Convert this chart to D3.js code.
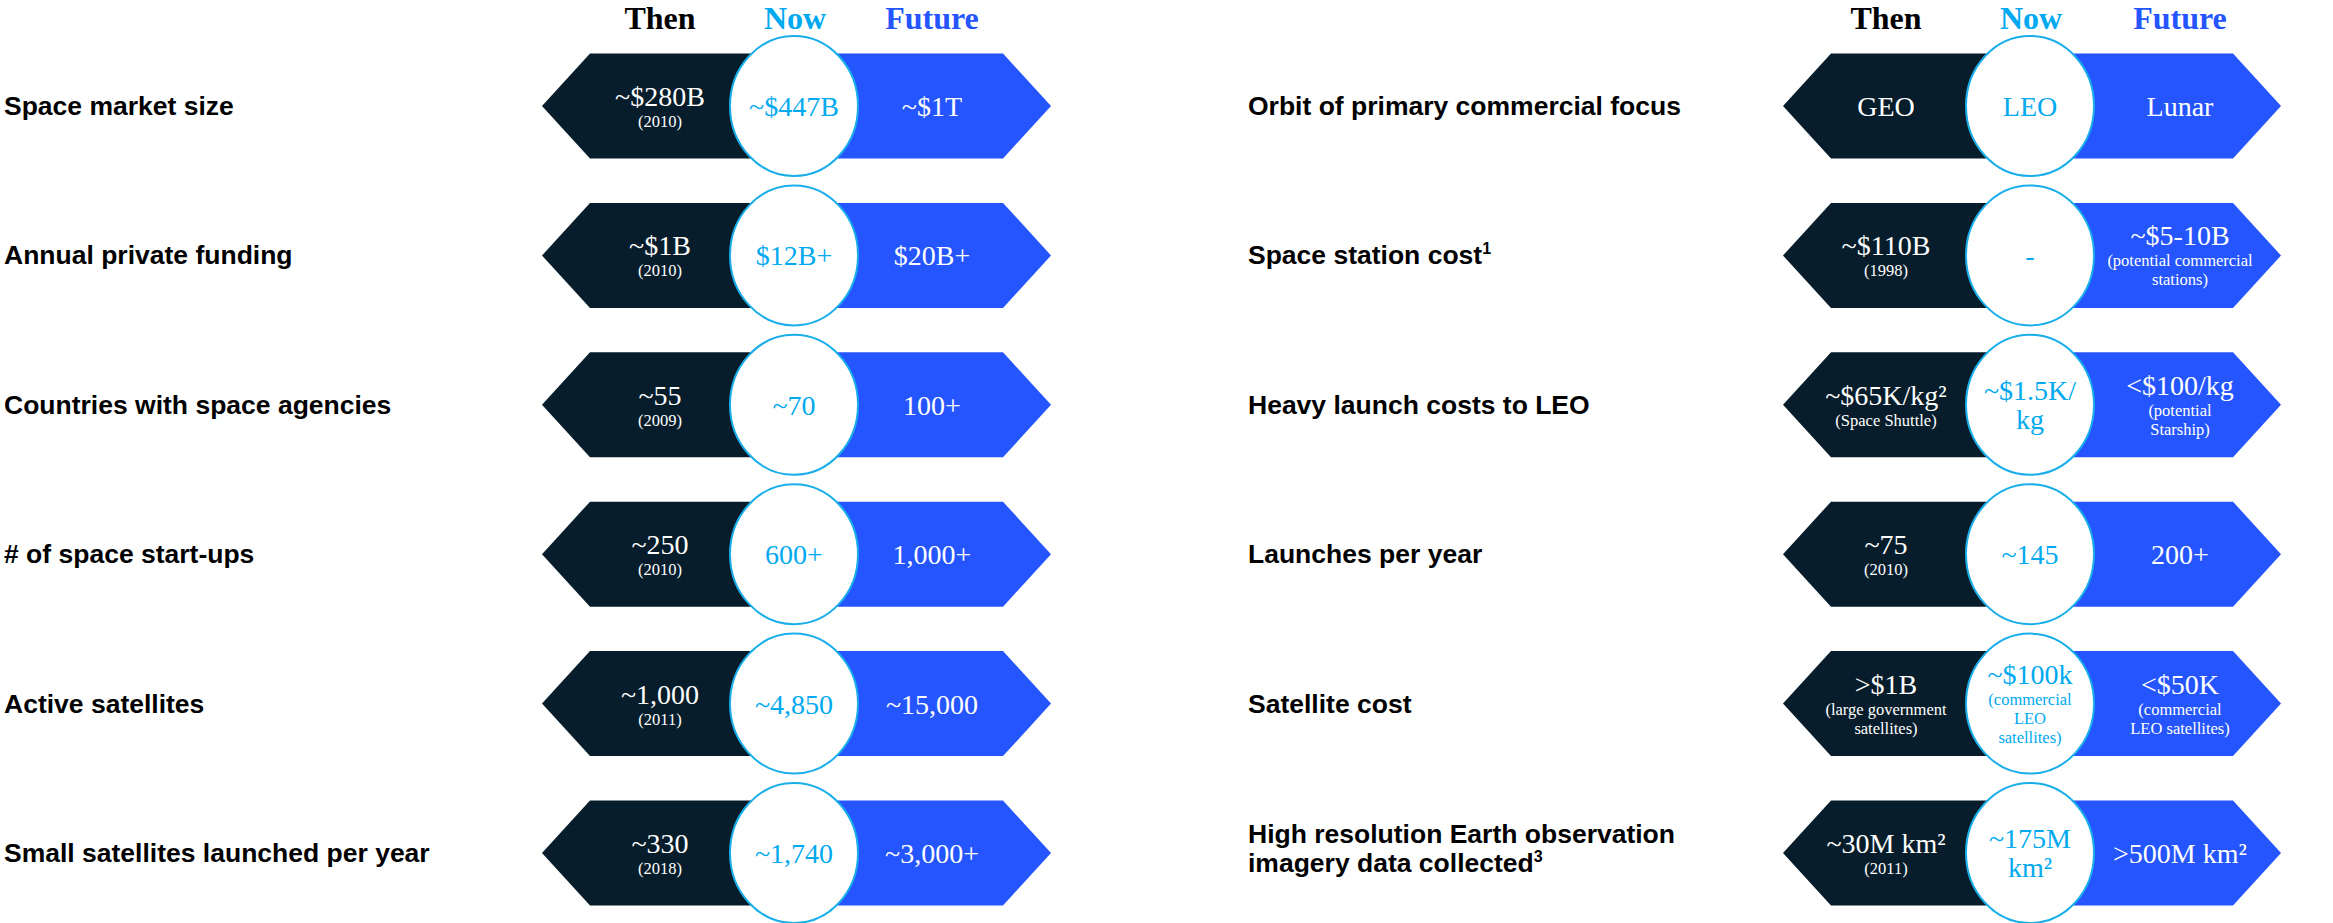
<!DOCTYPE html>
<html>
<head>
<meta charset="utf-8">
<script src="https://cdn.jsdelivr.net/npm/d3@7"></script>
<style>
  html, body { margin: 0; padding: 0; background: #ffffff; }
  svg { display: block; }
</style>
</head>
<body>
<svg id="chart" width="2333" height="923"></svg>
<script>
// ---- Column headers ----
const columnHeaders = ["Then", "Now", "Future"];

// ---- Left panel ----
const leftCategories = [
  "Space market size",
  "Annual private funding",
  "Countries with space agencies",
  "# of space start-ups",
  "Active satellites",
  "Small satellites launched per year"
];
const leftFootnotes = ["", "", "", "", "", ""];
const leftThenMain = [["~$280B"], ["~$1B"], ["~55"], ["~250"], ["~1,000"], ["~330"]];
const leftThenNote = [["(2010)"], ["(2010)"], ["(2009)"], ["(2010)"], ["(2011)"], ["(2018)"]];
const leftNowMain = [["~$447B"], ["$12B+"], ["~70"], ["600+"], ["~4,850"], ["~1,740"]];
const leftNowNote = [[], [], [], [], [], []];
const leftFutureMain = [["~$1T"], ["$20B+"], ["100+"], ["1,000+"], ["~15,000"], ["~3,000+"]];
const leftFutureNote = [[], [], [], [], [], []];

// ---- Right panel ----
const rightCategories = [
  "Orbit of primary commercial focus",
  "Space station cost",
  "Heavy launch costs to LEO",
  "Launches per year",
  "Satellite cost",
  "High resolution Earth observation\nimagery data collected"
];
const rightFootnotes = ["", "1", "", "", "", "3"];
const rightThenMain = [["GEO"], ["~$110B"], ["~$65K/kg²"], ["~75"], [">$1B"], ["~30M km²"]];
const rightThenNote = [[], ["(1998)"], ["(Space Shuttle)"], ["(2010)"], ["(large government", "satellites)"], ["(2011)"]];
const rightNowMain = [["LEO"], ["-"], ["~$1.5K/", "kg"], ["~145"], ["~$100k"], ["~175M", "km²"]];
const rightNowNote = [[], [], [], [], ["(commercial", "LEO", "satellites)"], []];
const rightFutureMain = [["Lunar"], ["~$5-10B"], ["<$100/kg"], ["200+"], ["<$50K"], [">500M km²"]];
const rightFutureNote = [[], ["(potential commercial", "stations)"], ["(potential", "Starship)"], [], ["(commercial", "LEO satellites)"], []];

// ---- Styling ----
const COLORS = { then: "#071d2b", now: "#00a9f0", future: "#2455ff", label: "#000000", ring: "#19aeea" };
const SERIF = "'Liberation Serif', 'DejaVu Serif', serif";
const SANS = "'Liberation Sans', Arial, sans-serif";

const svg = d3.select("#chart");

// Rows share one vertical scale across both panels
const rowY = d3.scalePoint().domain(d3.range(6)).range([106, 853]);

const HALF_H = 52.5;    // half height of the arrow bands
const RX = 64, RY = 70; // "Now" ellipse

const panels = [
  {
    labelX: 4, tipL: 542, cornerL: 590, centerX: 794, cornerR: 1003, tipR: 1051,
    thenX: 660, futureX: 932,
    categories: leftCategories, footnotes: leftFootnotes,
    thenMain: leftThenMain, thenNote: leftThenNote,
    nowMain: leftNowMain, nowNote: leftNowNote,
    futureMain: leftFutureMain, futureNote: leftFutureNote,
    headerX: [660, 795, 932]
  },
  {
    labelX: 1248, tipL: 1783, cornerL: 1831, centerX: 2030, cornerR: 2233, tipR: 2281,
    thenX: 1886, futureX: 2180,
    categories: rightCategories, footnotes: rightFootnotes,
    thenMain: rightThenMain, thenNote: rightThenNote,
    nowMain: rightNowMain, nowNote: rightNowNote,
    futureMain: rightFutureMain, futureNote: rightFutureNote,
    headerX: [1886, 2031, 2180]
  }
];

const MAIN_SIZE = 28;
const NOTE_SIZE = 16.5;

// Writes a block of main lines plus smaller note lines centred on row y
function drawCell(g, x, cy, mainLines, noteLines, color) {
  const text = g.append("text")
    .attr("text-anchor", "middle")
    .attr("font-family", SERIF)
    .attr("fill", color);
  const k = noteLines.length;
  let base;
  if (mainLines.length === 1) {
    base = cy + 10 - 10 * k;
    text.append("tspan").attr("x", x).attr("y", base)
      .attr("font-size", MAIN_SIZE).text(mainLines[0]);
  } else {
    mainLines.forEach((line, i) => {
      text.append("tspan").attr("x", x).attr("y", cy - 5 + 29 * i)
        .attr("font-size", MAIN_SIZE).text(line);
    });
    base = cy - 5 + 29 * (mainLines.length - 1);
  }
  noteLines.forEach((line, i) => {
    text.append("tspan").attr("x", x).attr("y", base + 21 + 19 * i)
      .attr("font-size", NOTE_SIZE).text(line);
  });
}

panels.forEach(p => {
  const g = svg.append("g");

  // headers
  const headerColors = [COLORS.label, COLORS.now, COLORS.future];
  const headerY = [29, 29, 29];
  g.selectAll("text.header")
    .data(columnHeaders)
    .join("text")
    .attr("class", "header")
    .attr("x", (d, i) => p.headerX[i])
    .attr("y", (d, i) => headerY[i])
    .attr("text-anchor", "middle")
    .attr("font-family", SERIF)
    .attr("font-weight", "bold")
    .attr("font-size", 32)
    .attr("fill", (d, i) => headerColors[i])
    .text(d => d);

  const rows = g.selectAll("g.row")
    .data(p.categories.map((c, i) => i))
    .join("g")
    .attr("class", "row");

  rows.each(function (i) {
    const row = d3.select(this);
    const cy = rowY(i);
    const top = cy - HALF_H, bot = cy + HALF_H;

    // Then band (arrow pointing left)
    row.append("path")
      .attr("d", d3.line()([
        [p.tipL, cy], [p.cornerL, top], [p.centerX, top],
        [p.centerX, bot], [p.cornerL, bot]
      ]) + "Z")
      .attr("fill", COLORS.then);

    // Future band (arrow pointing right)
    row.append("path")
      .attr("d", d3.line()([
        [p.centerX, top], [p.cornerR, top], [p.tipR, cy],
        [p.cornerR, bot], [p.centerX, bot]
      ]) + "Z")
      .attr("fill", COLORS.future);

    // Now ellipse
    row.append("ellipse")
      .attr("cx", p.centerX).attr("cy", cy)
      .attr("rx", RX).attr("ry", RY)
      .attr("fill", "#ffffff")
      .attr("stroke", COLORS.ring)
      .attr("stroke-width", 2);

    drawCell(row, p.thenX, cy, p.thenMain[i], p.thenNote[i], "#ffffff");
    drawCell(row, p.centerX, cy, p.nowMain[i], p.nowNote[i], COLORS.now);
    drawCell(row, p.futureX, cy, p.futureMain[i], p.futureNote[i], "#ffffff");

    // row label
    const lines = p.categories[i].split("\n");
    const label = row.append("text")
      .attr("font-family", SANS)
      .attr("font-weight", "bold")
      .attr("font-size", 26.5)
      .attr("fill", COLORS.label);
    const firstY = lines.length === 1 ? cy + 9 : cy - 10;
    lines.forEach((line, j) => {
      label.append("tspan").attr("x", p.labelX).attr("y", firstY + 29 * j).text(line);
    });
    if (p.footnotes[i]) {
      label.append("tspan")
        .attr("font-size", 16)
        .attr("dy", -10)
        .text(p.footnotes[i]);
    }
  });
});
</script>
</body>
</html>
